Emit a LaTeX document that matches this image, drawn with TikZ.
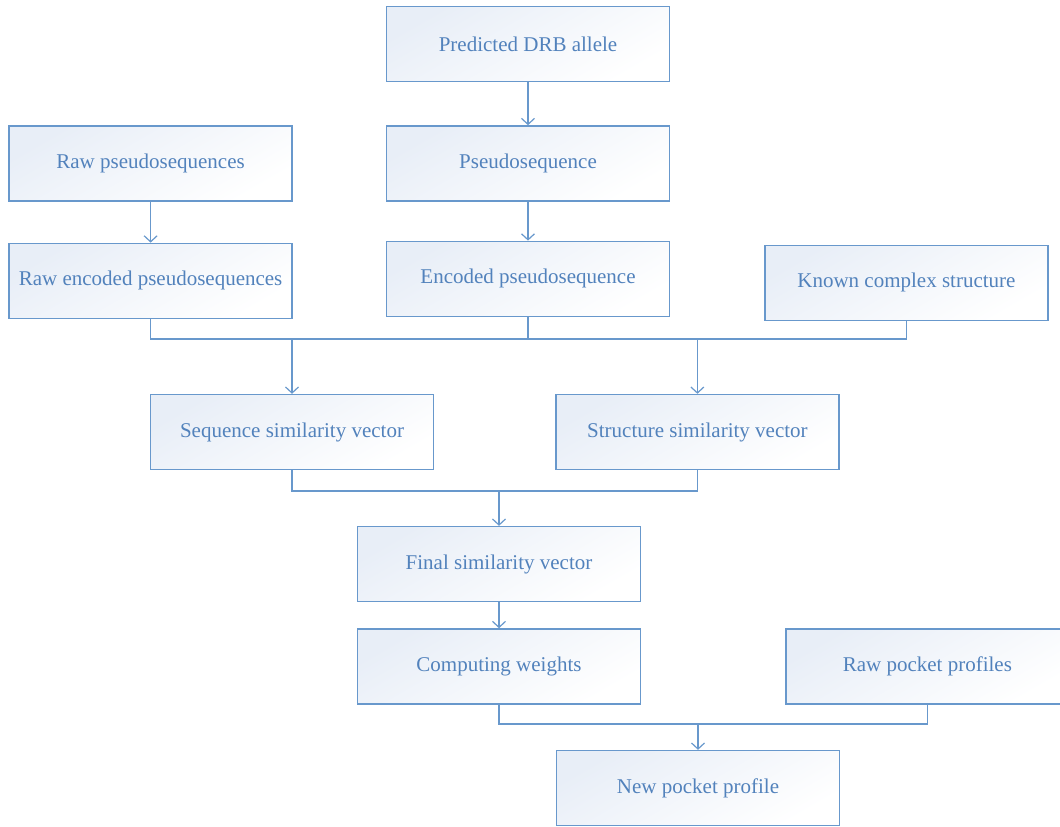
\documentclass[tikz,border=0pt]{standalone}
\usepackage{fontspec}
\setmainfont{Liberation Serif}
\usepackage{xcolor}
\usetikzlibrary{positioning,arrows.meta,calc}

\definecolor{lineblue}{RGB}{104,152,204}
\definecolor{textblue}{RGB}{82,130,188}
\definecolor{fillblue}{RGB}{232,238,247}

\begin{document}
\begin{tikzpicture}[
    x=1pt, y=-1pt,
    box/.style={draw=lineblue, line width=1.4pt, minimum width=283pt, minimum height=75pt,
        align=center, text=textblue, font=\fontsize{21}{25}\selectfont, inner sep=2pt,
        top color=fillblue, bottom color=white, shading angle=30},
    link/.style={draw=lineblue, line width=1.4pt},
    arr/.style={link, -{Straight Barb[length=6pt, width=13pt, line width=1.2pt]}}
]
\useasboundingbox (0,0) rectangle (1060,827);

\node[box] (pred) at (528,44) {Predicted DRB allele};
\node[box, below=43pt of pred] (pseq) {Pseudosequence};
\node[box, left=93pt of pseq] (rawps) {Raw pseudosequences};
\node[box, below=41pt of rawps] (rawenc) {Raw encoded pseudosequences};
\node[box, below=39pt of pseq] (encps) {Encoded pseudosequence};
\node[box, right=94pt of encps, yshift=-4pt] (known) {Known complex structure};

\node[box] (seqsim) at (292,432) {Sequence similarity vector};
\node[box, right=121pt of seqsim] (strsim) {Structure similarity vector};

\node[box] (finsim) at (499,564) {Final similarity vector};
\node[box, below=26pt of finsim] (compw) {Computing weights};
\node[box, right=144pt of compw] (rawpp) {Raw pocket profiles};
\node[box] (newpp) at (698,788) {New pocket profile};

% junctions
\coordinate (j1) at (528,339);
\coordinate (j2) at (499,491);
\coordinate (j3) at (698,724);

\draw[arr] (pred) -- (pseq);
\draw[arr] (rawps) -- (rawenc);
\draw[arr] (pseq) -- (encps);

\draw[link] (rawenc.south) |- (j1) -| (known.south);
\draw[link] (encps.south) -- (j1);
\draw[arr] (seqsim.north |- j1) -- (seqsim.north);
\draw[arr] (strsim.north |- j1) -- (strsim.north);

\draw[link] (seqsim.south) |- (j2) -| (strsim.south);
\draw[arr] (j2) -- (finsim);
\draw[arr] (finsim) -- (compw);

\draw[link] (compw.south) |- (j3) -| (rawpp.south);
\draw[arr] (j3) -- (newpp);
\end{tikzpicture}
\end{document}
